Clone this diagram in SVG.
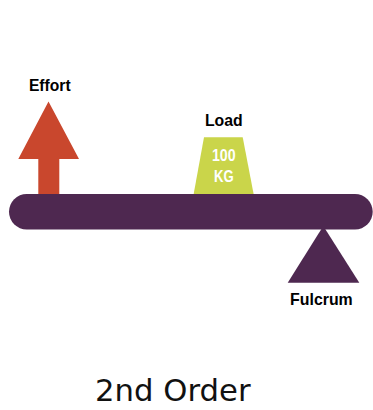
<svg xmlns="http://www.w3.org/2000/svg" width="373" height="410" viewBox="0 0 373 410">
<style>
.lbl{font-family:"Liberation Sans",Arial,sans-serif;font-weight:bold;font-size:17px;fill:#000;text-anchor:middle}
.wt{font-family:"Liberation Sans",Arial,sans-serif;font-weight:bold;font-size:17px;fill:#fff;text-anchor:middle}
.purple{fill:#4E2850}
</style>
<rect width="373" height="410" fill="#fff"/>
<g id="connectors"></g>
<g id="effort">
<polygon points="48.5,101.5 79,159 59.3,159 59.3,196 38.3,196 38.3,159 18.3,159" fill="#C9472D"/>
<text class="lbl" x="49.8" y="90.5" textLength="41.7" lengthAdjust="spacingAndGlyphs">Effort</text>
</g>
<g id="load">
<polygon points="204,137.3 242.7,137.3 254,196 193.3,196" fill="#CAD54A"/>
<text class="lbl" x="223.8" y="126" textLength="37.7" lengthAdjust="spacingAndGlyphs">Load</text>
<text class="wt" x="223.8" y="160.7" textLength="23.7" lengthAdjust="spacingAndGlyphs">100</text>
<text class="wt" x="223.8" y="181.7" textLength="19.7" lengthAdjust="spacingAndGlyphs">KG</text>
</g>
<g id="fulcrum">
<polygon class="purple" points="323.3,226 359.3,282.7 287.7,282.7"/>
<text class="lbl" x="321.4" y="304.5" textLength="62.7" lengthAdjust="spacingAndGlyphs">Fulcrum</text>
</g>
<g id="beam">
<rect class="purple" x="9" y="194" width="363.7" height="35.5" rx="17.7"/>
</g>
<g id="title">
<text x="172.8" y="400.5" font-family="DejaVu Sans,sans-serif" font-size="30" fill="#111" text-anchor="middle" textLength="155.5" lengthAdjust="spacingAndGlyphs">2nd Order</text>
</g>
</svg>
